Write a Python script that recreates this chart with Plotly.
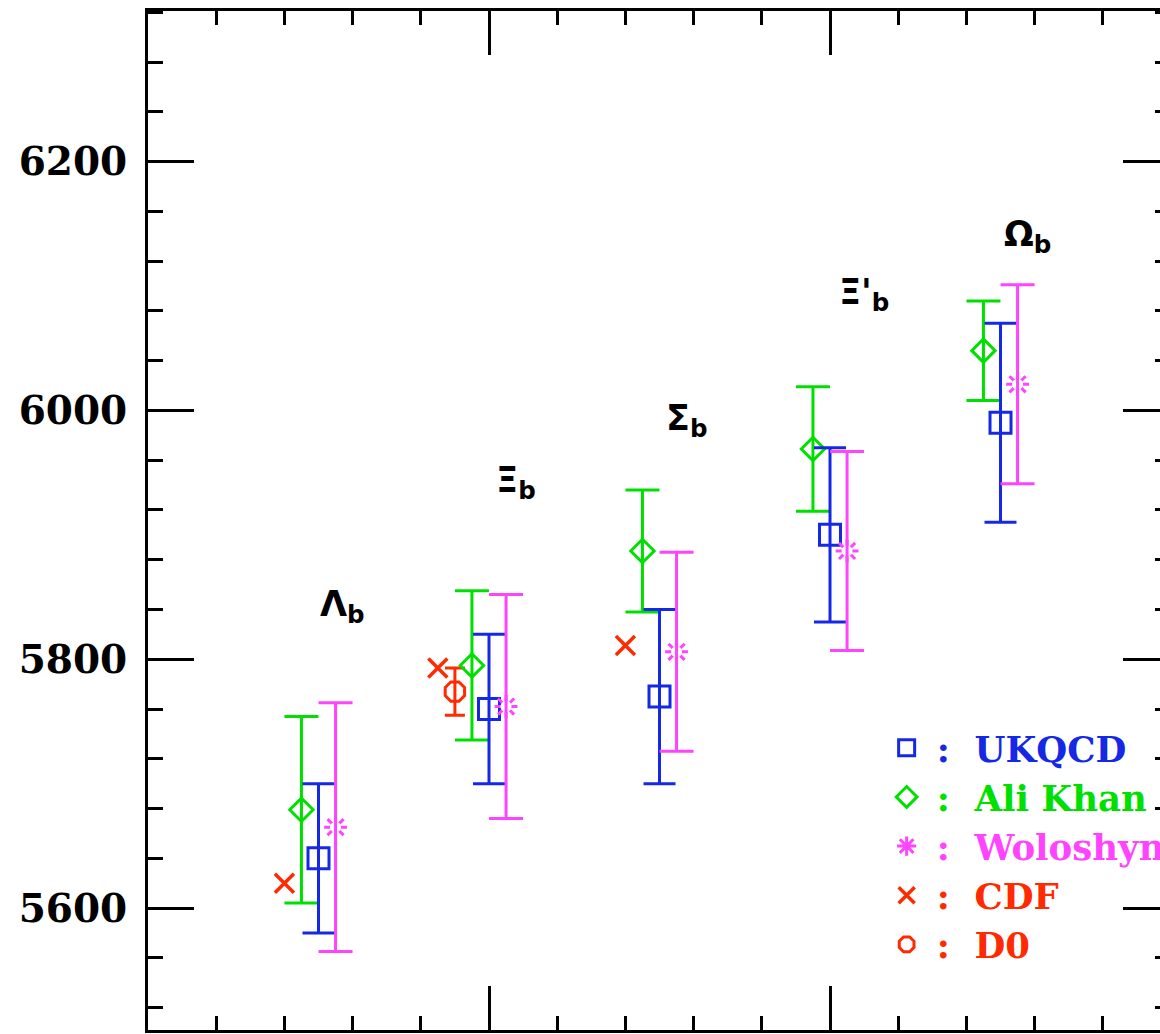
import plotly.graph_objects as go

# Bottom-baryon masses (MeV) from lattice QCD and experiment
baryons = ["Λ<sub>b</sub>", "Ξ<sub>b</sub>", "Σ<sub>b</sub>", "Ξ'<sub>b</sub>", "Ω<sub>b</sub>"]
label_x = [0.57, 1.08, 1.58, 2.10, 2.58]
label_y = [5842, 5942, 5992, 6093, 6140]

# UKQCD
ukqcd_x = [0.50, 1.00, 1.50, 2.00, 2.50]
ukqcd_m = [5640, 5760, 5770, 5900, 5990]
ukqcd_err = [60, 60, 70, 70, 80]

# Ali Khan et al.
alikhan_x = [0.45, 0.95, 1.45, 1.95, 2.45]
alikhan_m = [5679, 5795, 5887, 5969, 6048]
alikhan_err = [75, 60, 49, 50, 40]

# Woloshyn
wolo_x = [0.55, 1.05, 1.55, 2.05, 2.55]
wolo_m = [5665, 5762, 5806, 5887, 6021]
wolo_err = [100, 90, 80, 80, 80]

# CDF measurements
cdf_x = [0.40, 0.85, 1.40]
cdf_m = [5620, 5793, 5811]

# D0 measurement
d0_x = [0.90]
d0_m = [5774]
d0_err = [19]

BLUE = "#1428e6"
GREEN = "#00e000"
MAGENTA = "#ff44ff"
RED = "#ff2a00"
LEG_FONT = "DejaVu Serif"

X_RANGE = [0, 2.9677]
Y_RANGE = [5502, 6321]
Y_MAJOR = [5600, 5800, 6000, 6200]


def lname(text, color):
    return f'<span style="color:{color}">:\u00a0\u00a0{text}</span>'


fig = go.Figure()

fig.add_trace(go.Scatter(
    x=cdf_x, y=cdf_m, mode="markers", name=lname("CDF", RED), legendrank=4,
    marker=dict(symbol="x-thin-open", size=19, color=RED, line=dict(width=3.5, color=RED)),
))
fig.add_trace(go.Scatter(
    x=d0_x, y=d0_m, mode="markers", name=lname("D0", RED), legendrank=5,
    marker=dict(symbol="octagon-open", size=21, color=RED, line=dict(width=3, color=RED)),
    error_y=dict(type="data", array=d0_err, color=RED, thickness=3, width=10),
))
fig.add_trace(go.Scatter(
    x=alikhan_x, y=alikhan_m, mode="markers", name=lname("Ali Khan", GREEN), legendrank=2,
    marker=dict(symbol="diamond-open", size=18, color=GREEN, line=dict(width=3, color=GREEN)),
    error_y=dict(type="data", array=alikhan_err, color=GREEN, thickness=3, width=17),
))
fig.add_trace(go.Scatter(
    x=ukqcd_x, y=ukqcd_m, mode="markers", name=lname("UKQCD", BLUE), legendrank=1,
    marker=dict(symbol="square-open", size=21, color=BLUE, line=dict(width=3, color=BLUE)),
    error_y=dict(type="data", array=ukqcd_err, color=BLUE, thickness=3, width=16),
))
# Woloshyn: asterisk with a hollow centre, error bars drawn on top
fig.add_trace(go.Scatter(
    x=wolo_x, y=wolo_m, mode="markers", name=lname("Woloshyn", MAGENTA), legendrank=3,
    marker=dict(symbol="asterisk-open", size=19, color=MAGENTA, line=dict(width=3, color=MAGENTA)),
))
fig.add_trace(go.Scatter(
    x=wolo_x, y=wolo_m, mode="markers", showlegend=False, xaxis="x2", yaxis="y2", hoverinfo="skip",
    marker=dict(symbol="circle", size=11, color="white", line=dict(width=0)),
))
fig.add_trace(go.Scatter(
    x=wolo_x, y=wolo_m, mode="markers", showlegend=False, xaxis="x2", yaxis="y2",
    marker=dict(size=1, color="rgba(0,0,0,0)"),
    error_y=dict(type="data", array=wolo_err, color=MAGENTA, thickness=3, width=17),
))

for txt, lx, ly in zip(baryons, label_x, label_y):
    fig.add_annotation(x=lx, y=ly, text=txt, showarrow=False, xanchor="center", yanchor="middle",
                       font=dict(family="DejaVu Sans", size=35, color="black", weight="bold"))

x_ticks = dict(
    showgrid=False, zeroline=False,
    showline=True, linewidth=3, linecolor="black",
    ticks="inside", tickvals=[1, 2], ticklen=44, tickwidth=3, tickcolor="black",
    showticklabels=False,
    minor=dict(ticks="inside", dtick=0.2, tick0=0, ticklen=14, tickwidth=3, tickcolor="black"),
)

fig.update_layout(
    width=1160, height=1034,
    margin=dict(l=148, r=0, t=11, b=4, autoexpand=False),
    paper_bgcolor="white", plot_bgcolor="white",
    showlegend=True,
    legend=dict(
        x=0.72, y=0.306, xanchor="left", yanchor="top",
        bgcolor="rgba(255,255,255,0)", borderwidth=0,
        itemwidth=50, itemsizing="trace", traceorder="normal",
        font=dict(family=LEG_FONT, size=35.5, color="black", weight="bold"),
    ),
    xaxis=dict(range=X_RANGE, side="bottom", **x_ticks),
    xaxis2=dict(range=X_RANGE, side="top", overlaying="x", anchor="y2", **x_ticks),
    yaxis=dict(
        range=Y_RANGE, showgrid=False, zeroline=False,
        showline=True, linewidth=3, linecolor="black",
        ticks="inside", tickvals=Y_MAJOR, ticklen=46, tickwidth=3, tickcolor="black",
        ticklabelstandoff=10,
        tickfont=dict(family="DejaVu Serif", size=39, color="black", weight="bold"),
        minor=dict(ticks="inside", dtick=40, tick0=0, ticklen=15, tickwidth=3, tickcolor="black"),
    ),
    yaxis2=dict(
        range=Y_RANGE, overlaying="y", side="right", anchor="x2",
        showgrid=False, zeroline=False, showline=False,
        ticks="inside", tickvals=Y_MAJOR, ticklen=37, tickwidth=3, tickcolor="black",
        showticklabels=False,
        minor=dict(ticks="inside", dtick=40, tick0=0, ticklen=5, tickwidth=3, tickcolor="black"),
    ),
)

fig.write_html("out.html")
